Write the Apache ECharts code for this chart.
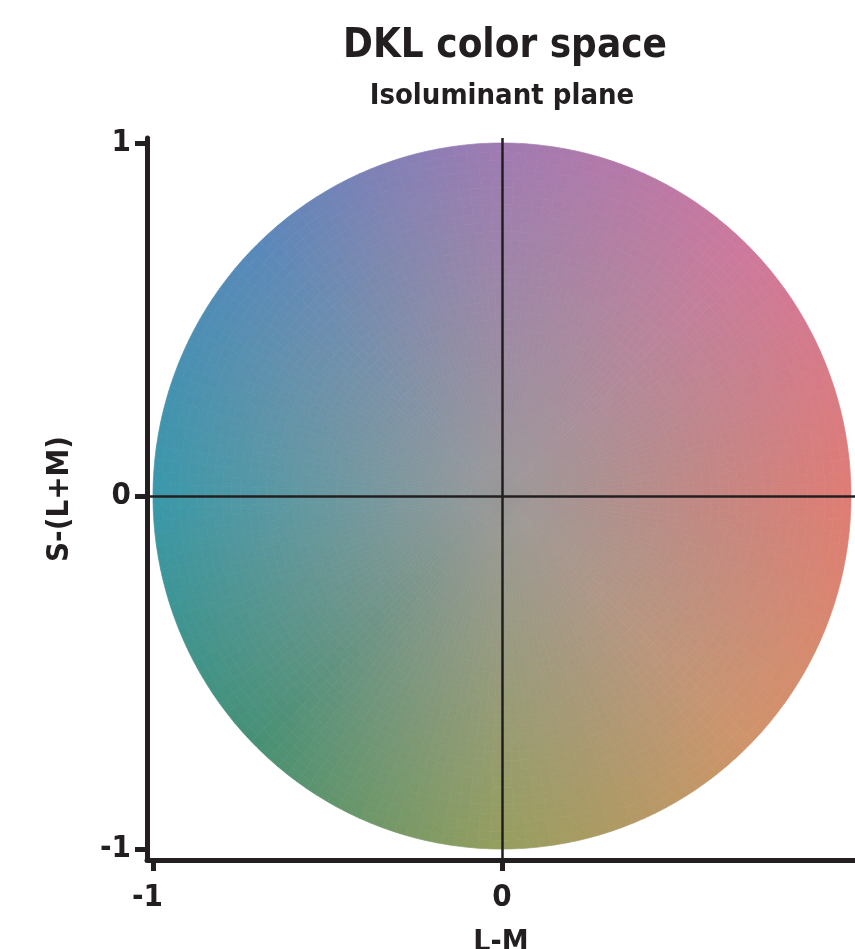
<!DOCTYPE html>
<html><head><meta charset="utf-8">
<script src="https://cdn.jsdelivr.net/npm/echarts@6/dist/echarts.min.js"></script>
<style>html,body{margin:0;padding:0;background:#fff}#c{width:855px;height:949px}</style>
</head><body><div id="c"></div>
<script>
// ---- data ----
const titleText = 'DKL color space';
const subtitleText = 'Isoluminant plane';
const xAxisName = 'L-M';
const yAxisName = 'S-(L+M)';
const xTickValues = [-1, 0];
const yTickValues = [-1, 0, 1];
// colours of the isoluminant disc sampled at its rim (angle in degrees, counter-clockwise from +L-M)
const anchorAngles = [0, 45, 90, 135, 180, 225, 270, 315, 360];
const anchorColors = [
  [224, 124, 116],
  [206, 120, 156],
  [160, 122, 178],
  [ 88, 136, 186],
  [ 56, 152, 170],
  [ 70, 144, 116],
  [150, 158,  94],
  [208, 148, 106],
  [224, 124, 116]
];
const centerColor = [154, 152, 152];
const discRadius = 1;
const ringCount = 40;     // rendering resolution
const sectorCount = 180;

const FONT = "'Liberation Sans Narrow','DejaVu Sans Condensed','Roboto Condensed','Arial Narrow',sans-serif";
const INK = '#231f20';

function lerp(a, b, t) { return a + (b - a) * t; }
function colorAt(r, deg) {
  let k = 0;
  while (k < anchorAngles.length - 2 && deg >= anchorAngles[k + 1]) k++;
  const t = (deg - anchorAngles[k]) / (anchorAngles[k + 1] - anchorAngles[k]);
  const c = [0, 1, 2].map(i => lerp(centerColor[i], lerp(anchorColors[k][i], anchorColors[k + 1][i], t), r / discRadius));
  return 'rgb(' + c.map(v => Math.round(v)).join(',') + ')';
}

const cells = [];
const cellColors = [];
for (let i = 0; i < ringCount; i++) {
  const r0 = discRadius * i / ringCount, r1 = discRadius * (i + 1) / ringCount;
  for (let j = 0; j < sectorCount; j++) {
    const a0 = 360 * j / sectorCount, a1 = 360 * (j + 1) / sectorCount;
    cells.push([r0, r1, a0, a1]);
    cellColors.push(colorAt((r0 + r1) / 2, (a0 + a1) / 2));
  }
}

function renderItem(params, api) {
  const r0 = api.value(0), r1 = api.value(1);
  const a0 = api.value(2) * Math.PI / 180, a1 = api.value(3) * Math.PI / 180;
  const n = 3, pts = [];
  for (let k = 0; k <= n; k++) { const a = a0 + (a1 - a0) * k / n; pts.push(api.coord([r1 * Math.cos(a), r1 * Math.sin(a)])); }
  for (let k = n; k >= 0; k--) { const a = a0 + (a1 - a0) * k / n; pts.push(api.coord([r0 * Math.cos(a), r0 * Math.sin(a)])); }
  const col = cellColors[params.dataIndex];
  return { type: 'polygon', shape: { points: pts }, style: { fill: col, stroke: col, lineWidth: 0.7 } };
}

const chart = echarts.init(document.getElementById('c'), null, { renderer: 'canvas' });
chart.setOption({
  animation: false,
  backgroundColor: '#fff',
  title: [
    { text: titleText, left: 500, top: 22, textAlign: 'center',
      textStyle: { fontFamily: FONT, fontWeight: 'bold', fontSize: 40, color: INK } },
    { text: subtitleText, left: 497, top: 77, textAlign: 'center',
      textStyle: { fontFamily: FONT, fontWeight: 'bold', fontSize: 29, color: INK } }
  ],
  grid: { left: 147, right: 0, top: 138, bottom: 89, containLabel: false, outerBoundsMode: 'none' },
  xAxis: {
    type: 'value', min: -1.0172, max: 1.0115, z: 5,
    name: xAxisName, nameLocation: 'middle', nameGap: 68,
    nameTextStyle: { fontFamily: FONT, fontWeight: 'bold', fontSize: 30, color: INK },
    axisLine: { show: true, onZero: false, lineStyle: { color: INK, width: 5 } },
    axisTick: { show: true, length: 11, customValues: xTickValues, lineStyle: { color: INK, width: 5 } },
    axisLabel: {
      customValues: xTickValues, margin: 22, fontFamily: FONT, fontWeight: 'bold', fontSize: 31, color: INK,
      formatter: v => (v < 0 ? '{neg|' + v + '}' : String(v)),
      rich: { neg: { fontFamily: FONT, fontWeight: 'bold', fontSize: 31, color: INK, padding: [0, 11, 0, 0] } }
    },
    splitLine: { show: false }
  },
  yAxis: {
    type: 'value', min: -1.0312, max: 1.0142, z: 5,
    name: yAxisName, nameLocation: 'middle', nameGap: 72, nameRotate: 90,
    nameTextStyle: { fontFamily: FONT, fontWeight: 'bold', fontSize: 31, color: INK },
    axisLine: { show: true, onZero: false, lineStyle: { color: INK, width: 5 } },
    axisTick: { show: true, length: 12, customValues: yTickValues, lineStyle: { color: INK, width: 5 } },
    axisLabel: { customValues: yTickValues, margin: 16, fontFamily: FONT, fontWeight: 'bold', fontSize: 31, color: INK },
    splitLine: { show: false }
  },
  series: [{
    type: 'custom',
    renderItem: renderItem,
    data: cells,
    encode: { x: [0], y: [1] },
    silent: true,
    clip: false,
    markLine: {
      silent: true, symbol: ['none', 'none'], animation: false,
      label: { show: false },
      lineStyle: { color: INK, width: 2.5, type: 'solid' },
      emphasis: { disabled: true },
      data: [{ xAxis: 0 }, { yAxis: 0 }]
    }
  }]
});
</script>
</body></html>
